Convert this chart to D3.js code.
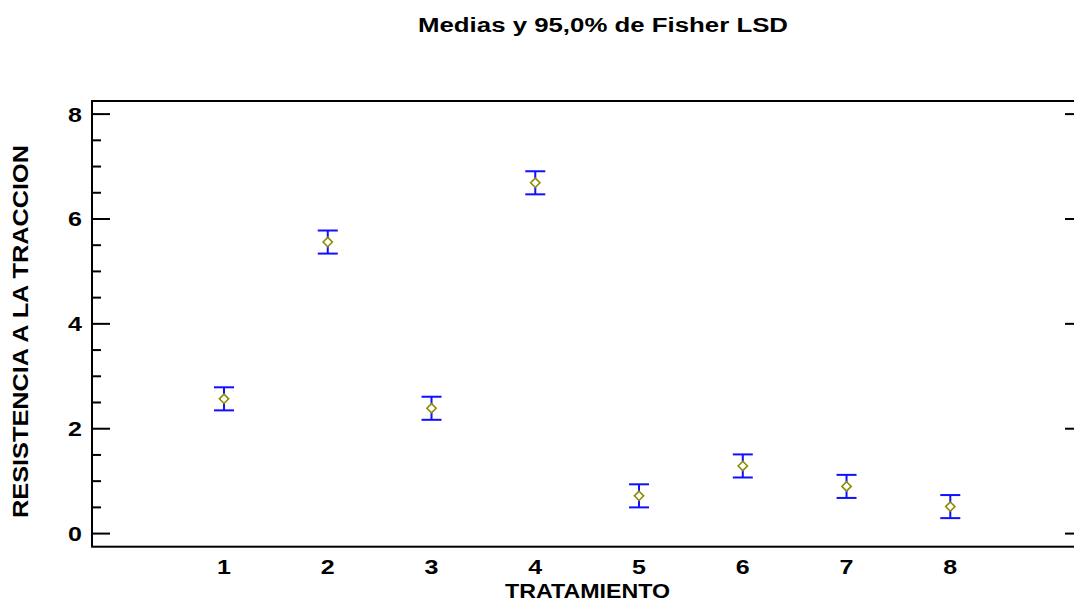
<!DOCTYPE html>
<html>
<head>
<meta charset="utf-8">
<script src="https://cdn.jsdelivr.net/npm/d3@7"></script>
<style>
  html, body { margin: 0; padding: 0; background: #fff; }
  svg { display: block; }
  text { font-family: "Liberation Sans", Arial, sans-serif; font-weight: bold; fill: #000; }
</style>
</head>
<body>
<svg id="chart" width="1074" height="609"></svg>
<script>
// ---- data ----
const categories = [1, 2, 3, 4, 5, 6, 7, 8];
const means = [2.57, 5.56, 2.39, 6.69, 0.72, 1.29, 0.90, 0.515];
const lsdHalf = [0.22, 0.22, 0.22, 0.22, 0.22, 0.22, 0.22, 0.22];
const yTicks = [0, 2, 4, 6, 8];
const yMinorTicks = [0, 0.5, 1, 1.5, 2, 2.5, 3, 3.5, 4, 4.5, 5, 5.5, 6, 6.5, 7, 7.5, 8];
const titleText = "Medias y 95,0% de Fisher LSD";
const xLabel = "TRATAMIENTO";
const yLabel = "RESISTENCIA A LA TRACCION";

// ---- layout ----
const plotLeft = 92, plotRight = 1083, plotTop = 101, plotBottom = 546.7;
const svg = d3.select("#chart");

const x = d3.scaleLinear().domain([1, 8]).range([224, 950.3]);
const y = d3.scaleLinear().domain([-0.25, 8.25]).range([plotBottom, plotTop]);

// frame
svg.append("rect")
  .attr("x", plotLeft).attr("y", plotTop)
  .attr("width", plotRight - plotLeft).attr("height", plotBottom - plotTop)
  .attr("fill", "none").attr("stroke", "#000").attr("stroke-width", 2);

// y ticks (left & right, inward)
const tickG = svg.append("g").attr("stroke", "#000").attr("stroke-width", 2);
yMinorTicks.forEach(v => {
  const major = yTicks.includes(v);
  const len = major ? 18 : 9;
  tickG.append("line").attr("x1", plotLeft).attr("x2", plotLeft + len)
    .attr("y1", y(v)).attr("y2", y(v));
  tickG.append("line").attr("x1", plotRight).attr("x2", plotRight - len)
    .attr("y1", y(v)).attr("y2", y(v));
});

// y tick labels
yTicks.forEach(v => {
  svg.append("text")
    .attr("transform", `translate(${plotLeft - 10},${y(v) + 7.5}) scale(1.25,1)`)
    .attr("text-anchor", "end")
    .attr("font-size", 20)
    .text(v);
});

// x tick labels
categories.forEach(c => {
  svg.append("text")
    .attr("transform", `translate(${x(c)},${574}) scale(1.25,1)`)
    .attr("text-anchor", "middle")
    .attr("font-size", 20)
    .text(c);
});

// error bars
const bars = svg.append("g").attr("stroke", "#1010ff").attr("stroke-width", 2);
categories.forEach((c, i) => {
  const lo = means[i] - lsdHalf[i], hi = means[i] + lsdHalf[i];
  const cx = x(c);
  bars.append("line").attr("x1", cx).attr("x2", cx).attr("y1", y(lo)).attr("y2", y(hi));
  bars.append("line").attr("x1", cx - 10).attr("x2", cx + 10).attr("y1", y(lo)).attr("y2", y(lo));
  bars.append("line").attr("x1", cx - 10).attr("x2", cx + 10).attr("y1", y(hi)).attr("y2", y(hi));
});

// mean diamonds
const sym = d3.symbol().type(d3.symbolDiamond2).size(55);
svg.append("g").selectAll("path").data(categories).join("path")
  .attr("d", sym)
  .attr("transform", (c, i) => `translate(${x(c)},${y(means[i])})`)
  .attr("fill", "#fff").attr("stroke", "#8c8c00").attr("stroke-width", 1.6);

// title
svg.append("text")
  .attr("x", 418).attr("y", 31.5)
  .attr("font-size", 20)
  .attr("textLength", 370).attr("lengthAdjust", "spacingAndGlyphs")
  .text(titleText);

// x axis label
svg.append("text")
  .attr("x", 505).attr("y", 597.5)
  .attr("font-size", 21)
  .attr("textLength", 165).attr("lengthAdjust", "spacingAndGlyphs")
  .text(xLabel);

// y axis label
svg.append("text")
  .attr("transform", `translate(28,518) rotate(-90)`)
  .attr("font-size", 22)
  .attr("textLength", 373).attr("lengthAdjust", "spacingAndGlyphs")
  .text(yLabel);
</script>
</body>
</html>
